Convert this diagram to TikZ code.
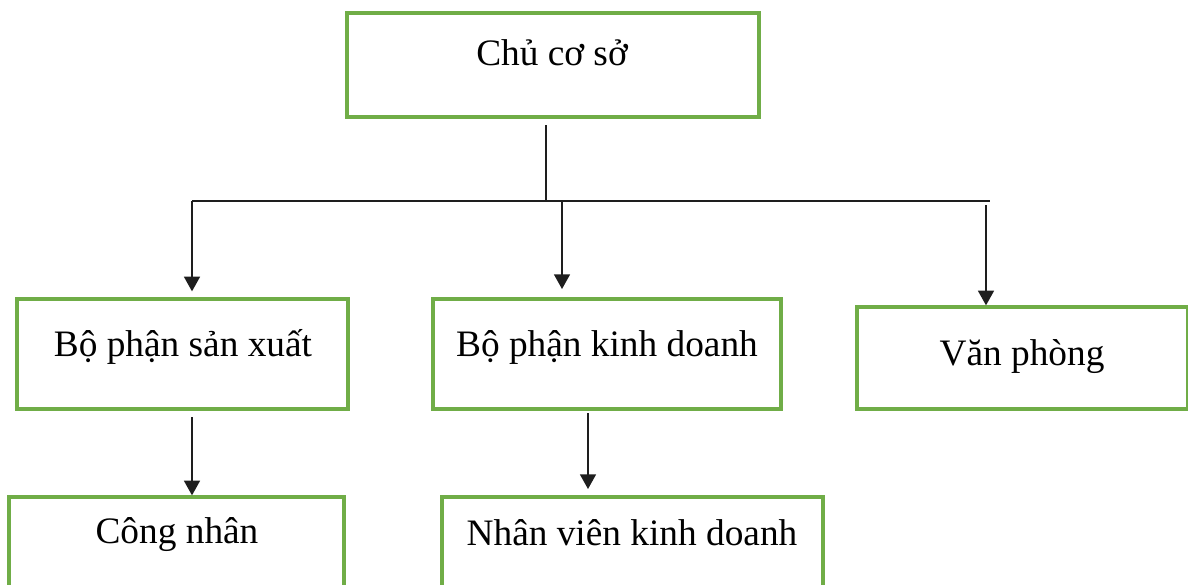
\documentclass[tikz,border=0pt]{standalone}
\usepackage{fontspec}
\setmainfont{Liberation Serif}
\usetikzlibrary{arrows.meta}
\definecolor{boxgreen}{RGB}{112,173,71}
\definecolor{linegray}{RGB}{30,30,30}
\begin{document}
\begin{tikzpicture}[x=0.75pt,y=-0.75pt,
  box/.style={draw=boxgreen,line width=2.5pt,rectangle,inner sep=0pt},
  lbl/.style={anchor=base,inner sep=0pt,font=\fontsize{28}{33}\selectfont},
  conn/.style={draw=linegray,line width=1.1pt},
  arr/.style={conn,-{Triangle[width=12pt,length=11pt]}}]
\useasboundingbox (0,0) rectangle (1188,585);
\clip (0,0) rectangle (1188,585);
% boxes
\node[box,minimum width=412*0.75pt,minimum height=104*0.75pt] (top) at (553,65) {};
\node[box,minimum width=331*0.75pt,minimum height=110*0.75pt] (b1) at (182.5,354) {};
\node[box,minimum width=348*0.75pt,minimum height=110*0.75pt] (b2) at (607,354) {};
\node[box,minimum width=331*0.75pt,minimum height=102*0.75pt] (b3) at (1022.5,358) {};
\node[box,minimum width=335*0.75pt,minimum height=120*0.75pt] (c1) at (176.5,557) {};
\node[box,minimum width=381*0.75pt,minimum height=120*0.75pt] (c2) at (632.5,557) {};
% labels
\node[lbl] (ttop) at (552,65) {Chủ cơ sở};
\node[lbl] (tb1) at (183,356) {Bộ phận sản xuất};
\node[lbl] (tb2) at (607,356) {Bộ phận kinh doanh};
\node[lbl] (tb3) at (1022,365) {Văn phòng};
\node[lbl] (tc1) at (177,543) {Công nhân};
\node[lbl] (tc2) at (632,545) {Nhân viên kinh doanh};
% connector points
\coordinate (t0) at (546,125);
\coordinate (tb) at (546,201);
\coordinate (bl) at (192,201);
\coordinate (br) at (990,201);
\coordinate (m0) at (562,201);
\coordinate (m1) at (562,289);
\coordinate (r0) at (986,205);
\coordinate (l1) at (192,417);
\coordinate (l2) at (588,413);
\coordinate (l2e) at (588,489);
% connectors
\draw[conn] (t0) -- (tb);
\draw[conn] (bl) -- (br);
\draw[arr] (bl) -- ([yshift=4.5pt]bl |- b1.north);
\draw[arr] (m0) -- (m1);
\draw[arr] (r0) -- (r0 |- b3.north);
\draw[arr] (l1) -- (l1 |- c1.north);
\draw[arr] (l2) -- (l2e);
\end{tikzpicture}
\end{document}
